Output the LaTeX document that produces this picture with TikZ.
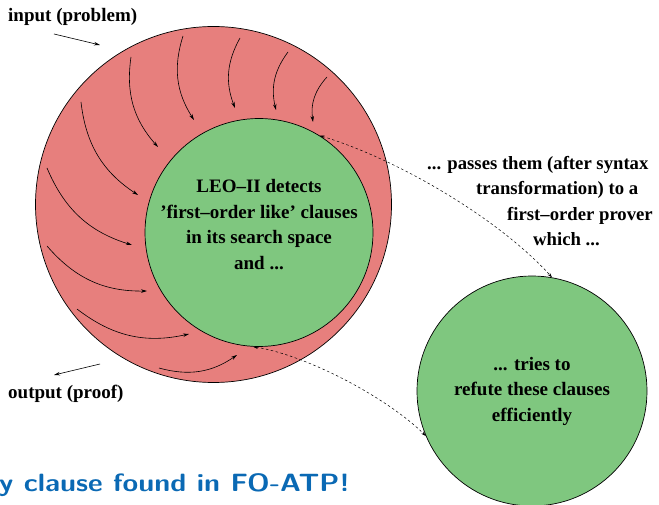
\documentclass[tikz,border=0pt]{standalone}
\usepackage{fontspec}
\setmainfont{Liberation Serif}
\usetikzlibrary{arrows.meta, positioning}
\definecolor{ringred}{RGB}{231,127,125}
\definecolor{leogreen}{RGB}{127,199,127}
\definecolor{slideblue}{RGB}{10,105,180}

\begin{document}
\begin{tikzpicture}[x=1pt, y=-1pt,
    circ/.style={circle, draw, line width=0.7pt, inner sep=0pt},
    txt/.style={font=\fontsize{19}{25.5}\selectfont\bfseries, align=center, inner sep=0pt},
    flow/.style={-{Stealth[length=6pt, width=3.5pt]}, line width=0.6pt},
    pass/.style={{Stealth[length=5pt, width=3pt]}-{Stealth[length=5pt, width=3pt]}, line width=0.5pt, dash pattern=on 2.5pt off 2.5pt}
  ]
    \useasboundingbox (0,0) rectangle (659,505);
    % search space of LEO-II
    \node[circ, fill=ringred, minimum size=356pt] (ring) at (213.5,204.5) {};
    \node[circ, fill=leogreen, minimum size=228pt] (leo) at (259,232.5) {};
    % clauses spiralling in
    \foreach \xa/\ya/\xb/\yb in {327/77/313/122, 288/52/276/110, 240/38/235/108,
        183/36/194/120, 131/57/158/147, 81/102/138/195, 47/168/132/245,
        47/246/147/291, 77/309/189/334, 159/368/237/355}
      \draw[flow] (\xa,\ya) to[bend right=25] (\xb,\yb);
    \node[txt] (leotxt) at ([yshift=8pt]leo.center) {LEO--II detects\\'first--order like' clauses\\in its search space\\and ...};
    % input and output
    \node[txt, anchor=base west] (inp) at (8,22) {input (problem)};
    \coordinate (inpa) at (54,34);
    \coordinate (inpb) at (100,45);
    \draw[flow] (inpa) -- (inpb);
    \node[txt, anchor=base west] (outp) at (8,398) {output (proof)};
    \coordinate (outa) at (100,364);
    \coordinate (outb) at (54,375);
    \draw[flow] (outa) -- (outb);
    % first-order prover
    \node[circ, fill=leogreen, minimum size=230pt] (fo) at (532,391) {};
    \node[txt] (fotxt) at (fo.center) {... tries to\\refute these clauses\\efficiently};
    \node[txt, align=left, anchor=west, font=\fontsize{18.7}{25.5}\selectfont\bfseries] (passes) at (427,201) {... passes them (after syntax\\\hspace*{49pt}transformation) to a\\\hspace*{80pt}first--order prover\\\hspace*{106pt}which ...};
    \draw[pass] (leo.58) .. controls (400,160) and (500,220) .. (fo.80);
    \draw[pass] (leo.-93) .. controls (310,356) and (390,400) .. (fo.203);
    % slide remark
    \node[anchor=base west, inner sep=0pt, xscale=1.14, transform shape, font=\fontsize{25}{28}\selectfont\sffamily\bfseries, text=slideblue] (note) at (-1,491) {y clause found in FO-ATP!};
  \end{tikzpicture}
\end{document}
